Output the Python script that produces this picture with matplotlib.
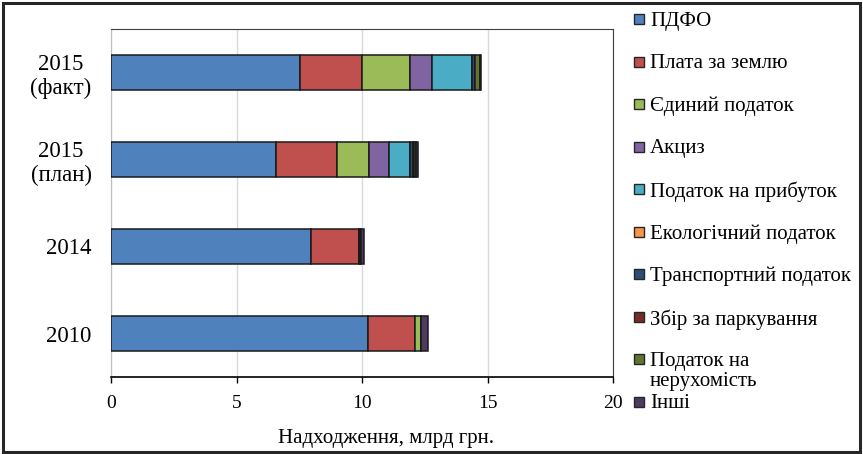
import matplotlib.pyplot as plt
from matplotlib.patches import Rectangle
import numpy as np

plt.rcParams['font.family'] = ['Liberation Serif', 'DejaVu Serif']

# budget revenue by source, bn UAH
years = ['2015\n(факт)', '2015\n(план)', '2014', '2010']
sources = ['ПДФО', 'Плата за землю', 'Єдиний податок', 'Акциз',
           'Податок на прибуток', 'Екологічний податок', 'Транспортний податок',
           'Збір за паркування', 'Податок на\nнерухомість', 'Інші']
colors = ['#4F81BD', '#C0504D', '#9BBB59', '#8064A2', '#4BACC6',
          '#F79646', '#2C4D75', '#772C2A', '#5F7530', '#4D3B62']

pdfo      = [7.53, 6.57, 7.98, 10.25]
land      = [2.48, 2.42, 1.90, 1.88]
single    = [1.90, 1.29, 0.00, 0.21]
excise    = [0.89, 0.81, 0.00, 0.00]
profit    = [1.57, 0.82, 0.00, 0.00]
ecology   = [0.02, 0.01, 0.00, 0.00]
transport = [0.10, 0.12, 0.06, 0.00]
parking   = [0.02, 0.05, 0.03, 0.00]
property_ = [0.20, 0.06, 0.00, 0.00]
other     = [0.05, 0.10, 0.12, 0.30]

series = [pdfo, land, single, excise, profit, ecology, transport, parking, property_, other]

fig = plt.figure(figsize=(8.63, 4.54), dpi=100)
ax = fig.add_axes([111/863, 1 - 377/454, 502/863, 348/454])

y = np.arange(len(years))
left = np.zeros(len(years))
for vals, c in zip(series, colors):
    ax.barh(y, vals, left=left, height=0.40, color=c, edgecolor='#1a1a1a', linewidth=1.1, zorder=3)
    left += np.array(vals)

ax.set_xlim(0, 20)
ax.set_ylim(3.5, -0.5)
ax.set_xticks([0, 5, 10, 15, 20])
ax.set_yticks(y)
ax.set_yticklabels(years, multialignment='center')
ax.tick_params(axis='y', length=0, pad=14, labelsize=16.5)
ax.tick_params(axis='x', length=4, width=1, direction='out', pad=9, labelsize=14)
ax.grid(axis='x', color='#d9d9d9', linewidth=1, zorder=0)

for s in ['top', 'right']:
    ax.spines[s].set_color('#404040')
    ax.spines[s].set_linewidth(0.8)
ax.spines['left'].set_color('#bfbfbf')
ax.spines['bottom'].set_color('black')
ax.spines['bottom'].set_linewidth(1.2)

fig.text(386/863, 1 - 438/454, 'Надходження, млрд грн.', ha='center', va='center', fontsize=15)

# legend drawn as a column of squares and labels
for i, (name, c) in enumerate(zip(sources, colors)):
    yc = 19 + 42.5 * i
    fig.patches.append(Rectangle((634/863, 1 - (yc + 5)/454), 10/863, 10/454,
                                 transform=fig.transFigure, facecolor=c,
                                 edgecolor='#262626', linewidth=1))
    fig.text(650/863, 1 - (yc - 7)/454, name, ha='left', va='top',
             fontsize=15, linespacing=1.05)

# outer frame
fig.patches.append(Rectangle((0.004, 0.004), 0.992, 0.99, transform=fig.transFigure,
                             fill=False, edgecolor='#262626', linewidth=2.2))

fig.savefig('out.png', dpi=100)
